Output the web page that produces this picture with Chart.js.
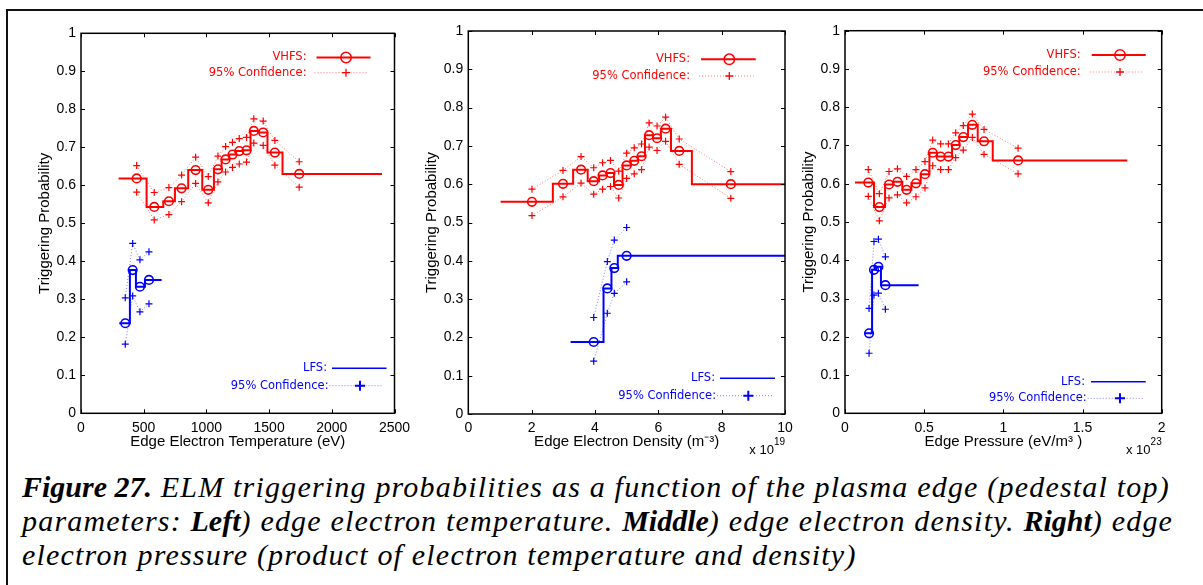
<!DOCTYPE html>
<html>
<head>
<meta charset="utf-8">
<script src="https://cdn.jsdelivr.net/npm/chart.js@4.4.1/dist/chart.umd.min.js"></script>
<style>
  html, body { margin: 0; padding: 0; background: #fff; }
  body { width: 1203px; height: 585px; position: relative; overflow: hidden; }
  .frame { position: absolute; left: 6px; top: 9px; width: 1210px; height: 600px; border-left: 2px solid #111; border-top: 2px solid #111; }
  canvas { position: absolute; top: 0; }
  #caption { position: absolute; left: 22px; top: 470px; font: italic 30px/34px "Liberation Serif", "Times New Roman", serif; letter-spacing: 1.2px; color: #000; white-space: nowrap; }
  #caption b { font-weight: bold; letter-spacing: 0; }
</style>
</head>
<body>
<div class="frame"></div>
<canvas id="teChart" width="420" height="470" style="left:0px"></canvas>
<canvas id="neChart" width="400" height="470" style="left:405px"></canvas>
<canvas id="peChart" width="403" height="470" style="left:800px"></canvas>
<div id="caption"><b>Figure 27.</b> ELM triggering probabilities as a function of the plasma edge (pedestal top)<br>parameters: <b>Left</b>) edge electron temperature. <b>Middle</b>) edge electron density. <b>Right</b>) edge<br>electron pressure (product of electron temperature and density)</div>
<script>
// 축 눈금
const probTicks = [0, 0.1, 0.2, 0.3, 0.4, 0.5, 0.6, 0.7, 0.8, 0.9, 1];
const teTicks = [0, 500, 1000, 1500, 2000, 2500];
const neTicks = [0, 2, 4, 6, 8, 10];
const peTicks = [0, 0.5, 1, 1.5, 2];

// 왼쪽: 전자 온도 (eV)
const teRedX = [444, 584, 701, 802, 914, 1015, 1092, 1153, 1208, 1262, 1320, 1378, 1453, 1546, 1740];
const teRedP = [0.618, 0.543, 0.558, 0.592, 0.640, 0.588, 0.642, 0.668, 0.681, 0.690, 0.692, 0.743, 0.739, 0.686, 0.630];
const teRedHi = [0.652, 0.581, 0.594, 0.627, 0.674, 0.623, 0.677, 0.702, 0.713, 0.723, 0.726, 0.775, 0.769, 0.718, 0.662];
const teRedLo = [0.582, 0.509, 0.523, 0.557, 0.605, 0.554, 0.609, 0.635, 0.647, 0.656, 0.661, 0.711, 0.705, 0.653, 0.595];
const teRedEdges = [300, 523, 656, 749, 855, 967, 1060, 1121, 1182, 1235, 1293, 1352, 1413, 1487, 1607, 2400];
const teBlueX = [353, 412, 470, 542];
const teBlueP = [0.237, 0.377, 0.333, 0.351];
const teBlueHi = [0.304, 0.447, 0.404, 0.425];
const teBlueLo = [0.182, 0.309, 0.267, 0.288];
const teBlueEdges = [305, 390, 438, 510, 643];

// 가운데: 전자 밀도 (x 10^19 m^-3)
const neRedX = [2.01, 2.99, 3.56, 3.96, 4.24, 4.49, 4.75, 5.00, 5.24, 5.47, 5.71, 5.96, 6.23, 6.66, 8.29];
const neRedP = [0.554, 0.601, 0.638, 0.608, 0.623, 0.629, 0.598, 0.649, 0.661, 0.673, 0.728, 0.720, 0.745, 0.687, 0.600];
const neRedHi = [0.587, 0.636, 0.672, 0.643, 0.656, 0.662, 0.634, 0.681, 0.695, 0.705, 0.760, 0.752, 0.775, 0.718, 0.633];
const neRedLo = [0.518, 0.567, 0.603, 0.574, 0.587, 0.594, 0.564, 0.615, 0.627, 0.638, 0.697, 0.688, 0.712, 0.652, 0.563];
const neRedEdges = [1.02, 2.67, 3.31, 3.77, 4.13, 4.37, 4.60, 4.87, 5.13, 5.35, 5.58, 5.83, 6.08, 6.40, 7.06, 10];
const neBlueX = [3.96, 4.39, 4.61, 5.00];
const neBlueP = [0.188, 0.328, 0.381, 0.413];
const neBlueHi = [0.252, 0.398, 0.454, 0.487];
const neBlueLo = [0.138, 0.263, 0.315, 0.345];
const neBlueEdges = [3.23, 4.27, 4.52, 4.72, 10];

// 오른쪽: 압력 (x 10^23 eV/m^3)
const peRedX = [0.147, 0.217, 0.278, 0.331, 0.389, 0.448, 0.505, 0.554, 0.604, 0.653, 0.699, 0.747, 0.804, 0.878, 1.093];
const peRedP = [0.603, 0.539, 0.598, 0.605, 0.584, 0.601, 0.625, 0.681, 0.671, 0.671, 0.701, 0.722, 0.754, 0.711, 0.661];
const peRedHi = [0.637, 0.574, 0.632, 0.639, 0.619, 0.637, 0.658, 0.714, 0.704, 0.704, 0.733, 0.752, 0.782, 0.742, 0.693];
const peRedLo = [0.567, 0.503, 0.563, 0.571, 0.550, 0.566, 0.589, 0.647, 0.637, 0.637, 0.668, 0.688, 0.721, 0.677, 0.626];
const peRedEdges = [0.063, 0.183, 0.253, 0.305, 0.362, 0.419, 0.478, 0.533, 0.581, 0.627, 0.676, 0.722, 0.777, 0.838, 0.933, 1.783];
const peBlueX = [0.152, 0.183, 0.211, 0.255];
const peBlueP = [0.209, 0.375, 0.383, 0.335];
const peBlueHi = [0.274, 0.449, 0.455, 0.409];
const peBlueLo = [0.157, 0.309, 0.314, 0.272];
const peBlueEdges = [0.12, 0.171, 0.196, 0.227, 0.465];

const RED = 'rgb(255,0,0)';
const RED_DOT = 'rgba(255,0,0,0.55)';
const BLUE = 'rgb(0,0,255)';
const BLUE_DOT = 'rgba(0,0,255,0.5)';
const TICK_FONT = { family: 'Liberation Sans, Arial, sans-serif', size: 14 };
const TITLE_FONT = { family: 'Liberation Sans, Arial, sans-serif', size: 15 };
const LEG_FONT = '11.5px "DejaVu Sans", sans-serif';

function makeSets(c, dot, edges, xs, p, hi, lo) {
  // 계단선: 구간 경계마다 해당 구간 값
  const step = edges.map((e, i) => ({ x: e, y: p[Math.max(i - 1, 0)] }));
  const pts = arr => xs.map((x, i) => ({ x: x, y: arr[i] }));
  const conf = arr => ({
    data: pts(arr), borderColor: dot, borderWidth: 1, borderDash: [1, 2],
    pointStyle: 'cross', pointRadius: 3.5, pointBorderWidth: 1.2, pointBorderColor: c
  });
  return [
    { data: step, borderColor: c, borderWidth: 2, stepped: 'after', pointRadius: 0 },
    { data: pts(p), showLine: false, pointStyle: 'circle', pointRadius: 4.3, pointBorderWidth: 1.6,
      pointBorderColor: c, pointBackgroundColor: 'rgba(0,0,0,0)' },
    conf(hi),
    conf(lo)
  ];
}

function cross(ctx, x, y, r, w, c) {
  ctx.save();
  ctx.strokeStyle = c; ctx.lineWidth = w;
  ctx.beginPath();
  ctx.moveTo(x - r, y); ctx.lineTo(x + r, y);
  ctx.moveTo(x, y - r); ctx.lineTo(x, y + r);
  ctx.stroke();
  ctx.restore();
}

function hline(ctx, x0, x1, y, w, c, dash) {
  ctx.save();
  ctx.strokeStyle = c; ctx.lineWidth = w;
  ctx.setLineDash(dash || []);
  ctx.beginPath(); ctx.moveTo(x0, y); ctx.lineTo(x1, y); ctx.stroke();
  ctx.restore();
}

const boxPlugin = {
  id: 'box',
  afterDraw(chart, args, opts) {
    const ctx = chart.ctx;
    const a = chart.chartArea;
    ctx.save();
    // 안쪽 눈금
    ctx.strokeStyle = '#000'; ctx.lineWidth = 1;
    ctx.beginPath();
    chart.scales.x.ticks.forEach(t => {
      const px = Math.round(chart.scales.x.getPixelForValue(t.value)) + 0.5;
      ctx.moveTo(px, a.bottom); ctx.lineTo(px, a.bottom - 4);
      ctx.moveTo(px, a.top); ctx.lineTo(px, a.top + 4);
    });
    chart.scales.y.ticks.forEach(t => {
      const py = Math.round(chart.scales.y.getPixelForValue(t.value)) + 0.5;
      ctx.moveTo(a.left, py); ctx.lineTo(a.left + 4, py);
      ctx.moveTo(a.right, py); ctx.lineTo(a.right - 4, py);
    });
    ctx.stroke();
    ctx.lineWidth = 1.5;
    ctx.strokeRect(a.left, a.top, a.right - a.left, a.bottom - a.top);

    // 범례
    const lg = opts.legend;
    const R = a.right;
    ctx.font = LEG_FONT;
    ctx.textAlign = 'right';
    ctx.textBaseline = 'middle';
    let y1 = a.top + lg.red.y1, y2 = a.top + lg.red.y2;
    ctx.fillStyle = RED;
    ctx.fillText('VHFS:', R + lg.red.text, y1);
    ctx.fillText('95% Confidence:', R + lg.red.text, y2);
    hline(ctx, R + lg.red.line[0], R + lg.red.line[1], y1, 2, RED);
    ctx.strokeStyle = RED; ctx.lineWidth = 1.5;
    ctx.beginPath(); ctx.arc(R + lg.red.mark, y1, 5.2, 0, Math.PI * 2); ctx.stroke();
    hline(ctx, R + lg.red.line[0] - 2, R + lg.red.line[1] - 2, y2, 1, RED_DOT, [1, 2]);
    cross(ctx, R + lg.red.mark, y2, 4, 1.3, RED);

    y1 = a.bottom + lg.blue.y1; y2 = a.bottom + lg.blue.y2;
    ctx.fillStyle = BLUE;
    ctx.fillText('LFS:', R + lg.blue.text, y1);
    ctx.fillText('95% Confidence:', R + lg.blue.text2, y2);
    hline(ctx, R + lg.blue.line[0], R + lg.blue.line[1], y1, 1.6, BLUE);
    hline(ctx, R + lg.blue.text2 + 1, R + lg.blue.line[1] - 3, y2, 1, BLUE_DOT, [1, 2]);
    cross(ctx, R + lg.blue.mark, y2, 5, 2, BLUE);

    // 지수 표시
    if (opts.exp) {
      ctx.fillStyle = '#000';
      ctx.textAlign = 'left';
      ctx.font = '10px "Liberation Sans", Arial, sans-serif';
      const supW = ctx.measureText(opts.exp).width;
      ctx.fillText(opts.exp, R - supW, 442);
      ctx.font = '13px "Liberation Sans", Arial, sans-serif';
      ctx.textAlign = 'right';
      ctx.fillText('x 10', R - supW, 450);
    }
    ctx.restore();
  }
};

function makeChart(id, cfg) {
  const W = document.getElementById(id).width;
  const H = 470;
  return new Chart(document.getElementById(id), {
    type: 'line',
    data: {
      datasets: [].concat(
        makeSets(RED, RED_DOT, cfg.red.edges, cfg.red.x, cfg.red.p, cfg.red.hi, cfg.red.lo),
        makeSets(BLUE, BLUE_DOT, cfg.blue.edges, cfg.blue.x, cfg.blue.p, cfg.blue.hi, cfg.blue.lo)
      )
    },
    options: {
      responsive: false,
      animation: false,
      devicePixelRatio: 1,
      events: [],
      layout: { padding: { left: 0, top: cfg.area.top, right: W - cfg.area.right, bottom: 0 } },
      plugins: {
        legend: { display: false },
        tooltip: { enabled: false },
        box: { legend: cfg.legend, exp: cfg.exp }
      },
      scales: {
        x: {
          type: 'linear', min: cfg.xTicks[0], max: cfg.xTicks[cfg.xTicks.length - 1],
          afterBuildTicks: s => { s.ticks = cfg.xTicks.map(v => ({ value: v })); },
          afterFit: s => { s.height = H - cfg.area.bottom; },
          grid: { display: false, drawTicks: false },
          border: { display: false },
          ticks: { color: '#000', font: TICK_FONT, padding: 6, maxRotation: 0, autoSkip: false,
                   callback: v => String(v) },
          title: { display: true, text: cfg.xTitle, color: '#000', font: TITLE_FONT,
                   padding: { top: 0, bottom: 19.3 } }
        },
        y: {
          type: 'linear', min: 0, max: 1,
          afterBuildTicks: s => { s.ticks = probTicks.map(v => ({ value: v })); },
          afterFit: s => { s.width = cfg.area.left; },
          grid: { display: false, drawTicks: false },
          border: { display: false },
          ticks: { color: '#000', font: TICK_FONT, padding: 5, autoSkip: false,
                   callback: v => String(v) },
          title: { display: true, text: 'Triggering Probability', color: '#000', font: TITLE_FONT,
                   padding: { top: cfg.yTitlePad, bottom: 0 } }
        }
      }
    },
    plugins: [boxPlugin]
  });
}

makeChart('teChart', {
  area: { left: 81, top: 33.3, right: 394.5, bottom: 413.3 },
  xTicks: teTicks, xTitle: 'Edge Electron Temperature (eV)', yTitlePad: 36,
  red: { edges: teRedEdges, x: teRedX, p: teRedP, hi: teRedHi, lo: teRedLo },
  blue: { edges: teBlueEdges, x: teBlueX, p: teBlueP, hi: teBlueHi, lo: teBlueLo },
  legend: {
    red: { text: -88, y1: 24.2, y2: 39.4, line: [-78, -24], mark: -48.5 },
    blue: { text: -67.5, text2: -66, y1: -45, y2: -27.6, line: [-62.5, -8], mark: -34.5 }
  }
});

makeChart('neChart', {
  area: { left: 63.3, top: 31, right: 380, bottom: 414 },
  xTicks: neTicks, xTitle: 'Edge Electron Density (m\u207B\u00B3)', yTitlePad: 17.7, exp: '19',
  red: { edges: neRedEdges, x: neRedX, p: neRedP, hi: neRedHi, lo: neRedLo },
  blue: { edges: neBlueEdges, x: neBlueX, p: neBlueP, hi: neBlueHi, lo: neBlueLo },
  legend: {
    red: { text: -95, y1: 28.3, y2: 45, line: [-84, -29.3], mark: -55.7 },
    blue: { text: -70, text2: -69, y1: -35.7, y2: -18.3, line: [-65, -10], mark: -36.7 }
  }
});

makeChart('peChart', {
  area: { left: 45, top: 30.7, right: 361.7, bottom: 413.3 },
  xTicks: peTicks, xTitle: 'Edge Pressure (eV/m\u00B3 )', yTitlePad: 0, exp: '23',
  red: { edges: peRedEdges, x: peRedX, p: peRedP, hi: peRedHi, lo: peRedLo },
  blue: { edges: peBlueEdges, x: peBlueX, p: peBlueP, hi: peBlueHi, lo: peBlueLo },
  legend: {
    red: { text: -81, y1: 24.3, y2: 41.3, line: [-70, -16], mark: -41.7 },
    blue: { text: -76.7, text2: -75, y1: -31.6, y2: -15, line: [-70.7, -16], mark: -41.7 }
  }
});
</script>
</body>
</html>
